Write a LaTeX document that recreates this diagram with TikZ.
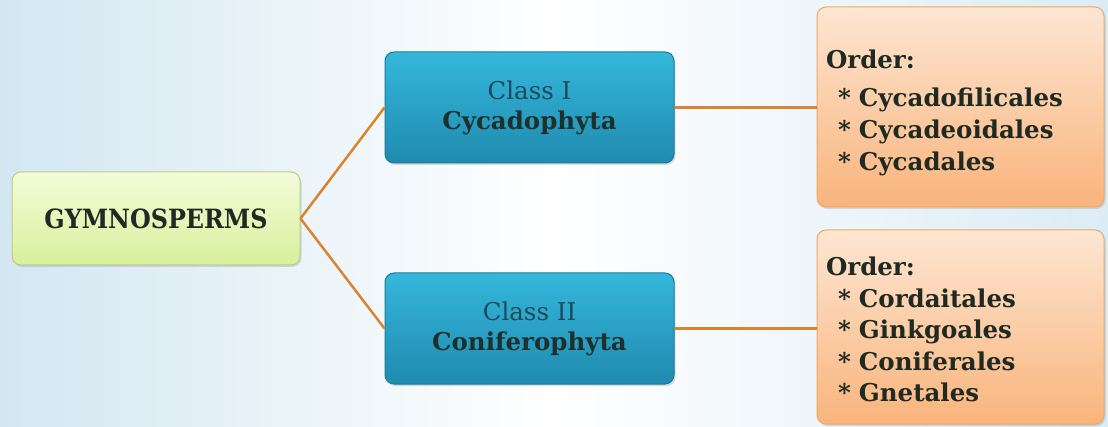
\documentclass[tikz,border=0pt]{standalone}
\usepackage{fontspec}
\setmainfont{DejaVu Serif}
\newfontfamily\narrowserif{DejaVu Serif Condensed}
\usetikzlibrary{shadows}
\definecolor{bgblue}{HTML}{D3E7F2}
\definecolor{linkorange}{HTML}{D9852F}
\definecolor{roottop}{HTML}{F3FCDA}
\definecolor{rootbot}{HTML}{D7F09C}
\definecolor{rootline}{HTML}{B9CF86}
\definecolor{classtop}{HTML}{35B7DC}
\definecolor{classbot}{HTML}{1F8BAE}
\definecolor{classline}{HTML}{1B7B9C}
\definecolor{classtext}{HTML}{1D4A5B}
\definecolor{ordertop}{HTML}{FDE6D2}
\definecolor{orderbot}{HTML}{F9B47C}
\definecolor{orderline}{HTML}{EFA762}
\definecolor{darktext}{HTML}{1E2A22}
\begin{document}
\begin{tikzpicture}[x=1pt,y=-1pt,
	box/.style={draw,rounded corners=9pt,line width=1pt,drop shadow={opacity=0.25,shadow xshift=1.5pt,shadow yshift=-2pt}},
	rootbox/.style={box,draw=rootline,top color=roottop,bottom color=rootbot,minimum width=288pt,minimum height=93pt,text=darktext,font=\narrowserif\bfseries\fontsize{26.5}{30}\selectfont},
	classbox/.style={box,draw=classline,top color=classtop,bottom color=classbot,minimum width=289pt,minimum height=111pt,align=center,text=classtext,font=\fontsize{24.5}{30}\selectfont},
	orderbox/.style={box,draw=orderline,top color=ordertop,bottom color=orderbot,text width=269pt,inner xsep=9pt,align=left,text=darktext},
	link/.style={draw=linkorange,line width=2.5pt}]
	% background
	\useasboundingbox (0,0) rectangle (1108,427);
	\fill[left color=bgblue,right color=bgblue!80,middle color=white] (0,0) rectangle (1108,427);
	% boxes
	\node[rootbox] (gymno) at (156,218.5) {GYMNOSPERMS};
	\node[classbox] (cycado) at (529.5,107.5) {Class I\\{\bfseries\color{darktext!80!classtext}Cycadophyta}};
	\node[classbox] (conifero) at (529.5,328.5) {Class II\\{\bfseries\color{darktext!80!classtext}Coniferophyta}};
	\node[orderbox,minimum height=200pt,text height=30pt,font=\bfseries\fontsize{24.5}{32}\selectfont] (cycorders) at (960.5,107) {Order:\\[6pt]
		\hspace*{12pt}* Cycadofilicales\\
		\hspace*{12pt}* Cycadeoidales\\
		\hspace*{12pt}* Cycadales};
	\node[orderbox,minimum height=194pt,text height=24pt,font=\bfseries\fontsize{24.5}{31.5}\selectfont] (conorders) at (960.5,327) {Order:\\
		\hspace*{12pt}* Cordaitales\\
		\hspace*{12pt}* Ginkgoales\\
		\hspace*{12pt}* Coniferales\\
		\hspace*{12pt}* Gnetales};
	% links
	\draw[link] (gymno.east) -- (cycado.west);
	\draw[link] (gymno.east) -- (conifero.west);
	\draw[link] (cycado.east) -- (cycado.east -| cycorders.west);
	\draw[link] (conifero.east) -- (conifero.east -| conorders.west);
\end{tikzpicture}
\end{document}
